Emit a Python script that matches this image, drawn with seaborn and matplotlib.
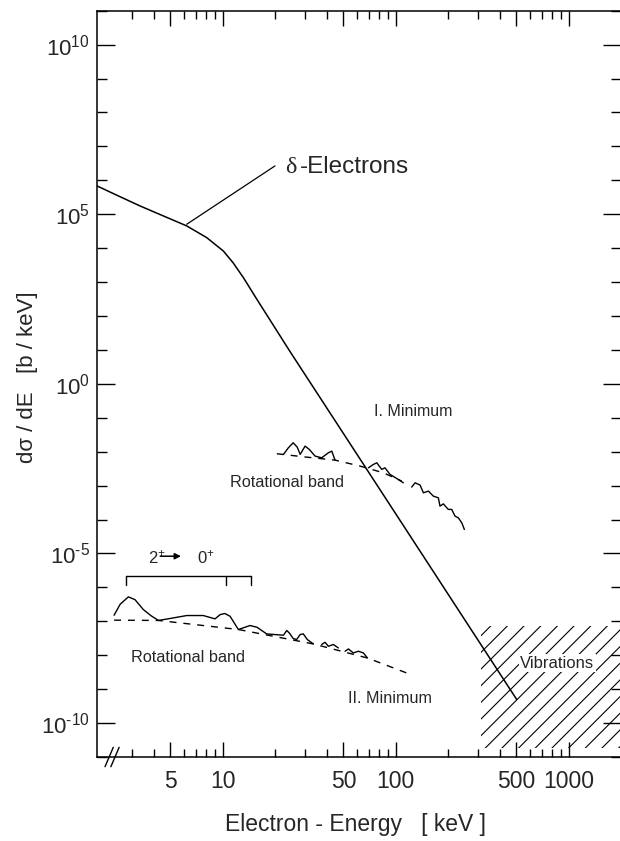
import numpy as np
import pandas as pd
import matplotlib
matplotlib.use("Agg")
import matplotlib.pyplot as plt
import seaborn as sns
from matplotlib.ticker import FixedLocator, FixedFormatter, NullFormatter

# ---- delta-electron spectrum (keV, b/keV) ----
delta_energy = [1.88, 2.45, 3.33, 4.55, 6.21, 8.1, 10.1, 11.5, 13.2, 15.8, 24.5, 502]
delta_sigma = [6.84e5, 3.63e5, 1.76e5, 8.9e4, 4.52e4, 2.04e4, 8.26e3, 3.73e3, 1.35e3, 3.09e2, 9.1, 4.93e-10]

# ---- rotational band, I. minimum ----
upper_base_energy = [20.6, 29.3, 44.7, 62.4, 85.0, 108.6]
upper_base_sigma = [8.7e-3, 7.08e-3, 5.65e-3, 3.76e-3, 2.39e-3, 1.36e-3]

upper_a_energy = [22.5, 24.0, 25.6, 27.0, 28.1, 30.0, 31.7, 34.3, 37.4, 40.9, 42.8, 44.7]
upper_a_sigma = [8.32e-3, 1.30e-2, 1.83e-2, 1.37e-2, 8.32e-3, 1.46e-2, 1.17e-2, 7.41e-3,
                 6.61e-3, 9.29e-3, 1.04e-2, 5.65e-3]
upper_b_energy = [69.7, 74.5, 77.9, 83.2, 86.9, 92.9, 103.7, 110.9]
upper_b_sigma = [3.35e-3, 4.22e-3, 4.71e-3, 3.01e-3, 3.35e-3, 2.14e-3, 1.52e-3, 1.21e-3]
upper_c_energy = [124, 129.7, 138.6, 144.9, 154.9, 165.4, 176.8, 180.7, 188.8, 201.8,
                  211.2, 220.7, 230.7, 241.5, 249.9]
upper_c_sigma = [9.04e-4, 1.21e-3, 1.04e-3, 6.14e-4, 6.89e-4, 4.90e-4, 4.37e-4, 2.48e-4,
                 2.90e-4, 1.99e-4, 1.99e-4, 1.26e-4, 1.12e-4, 8.0e-5, 5.1e-5]

# ---- rotational band, II. minimum ----
lower_base_energy = [2.36, 4.26, 12.34, 33.5, 68.7, 116.0]
lower_base_sigma = [1.08e-7, 1.06e-7, 5.73e-8, 2.15e-8, 8.3e-9, 3.0e-9]

lower_a_energy = [2.36, 2.56, 2.855, 3.12, 3.48, 3.86, 4.26, 4.97, 6.21, 7.74, 9.05, 9.67,
                  10.3, 11.05, 12.34, 14.4, 15.8, 18.0, 22.5, 23.5, 24.3, 25.6, 26.8, 28.1,
                  29.3, 30.9, 33.5]
lower_a_sigma = [1.51e-7, 3.19e-7, 5.25e-7, 4.34e-7, 2.23e-7, 1.46e-7, 1.06e-7, 1.21e-7,
                 1.48e-7, 1.48e-7, 1.18e-7, 1.57e-7, 1.70e-7, 1.41e-7, 5.73e-8, 7.5e-8,
                 6.7e-8, 4.25e-8, 3.89e-8, 5.36e-8, 4.55e-8, 3.11e-8, 2.90e-8, 4.08e-8,
                 4.25e-8, 2.90e-8, 2.15e-8]
lower_b_energy = [37.4, 39.1, 40.9, 43.7, 46.7]
lower_b_sigma = [2.07e-8, 2.41e-8, 1.84e-8, 2.07e-8, 1.64e-8]
lower_c_energy = [51.1, 53.4, 57.0, 61.0, 65.2, 68.8]
lower_c_sigma = [1.31e-8, 1.53e-8, 1.17e-8, 1.31e-8, 1.17e-8, 8.3e-9]

# 2+ -> 0+ transition range bracket (keV)
bracket_energy = [2.76, 10.4, 14.6]
bracket_sigma_top = 2.14e-6
bracket_sigma_bottom = 1.14e-6

# region dominated by vibrational excitation
vib_energy = [312, 2000]
vib_sigma = [1.8e-11, 7.2e-8]

# axis ticks
x_major = [5, 10, 50, 100, 500, 1000]
x_major_labels = ["5", "10", "50", "100", "500", "1000"]
x_minor = [3, 4, 6, 7, 8, 9, 20, 30, 40, 60, 70, 80, 90, 200, 300, 400, 600, 700, 800, 900]
y_major = [1e10, 1e5, 1e0, 1e-5, 1e-10]
y_major_labels = [r"$\mathregular{10^{10}}$", r"$\mathregular{10^{5}}$", r"$\mathregular{10^{0}}$",
                  r"$\mathregular{10^{\text{-}5}}$", r"$\mathregular{10^{\text{-}10}}$"]
y_minor = [10.0 ** k for k in range(-11, 12) if k % 5 != 0]

sns.set_theme(style="ticks")
plt.rcParams["font.family"] = ["Liberation Sans", "DejaVu Sans"]
plt.rcParams["mathtext.fontset"] = "custom"
plt.rcParams["mathtext.rm"] = "Liberation Sans"
plt.rcParams["mathtext.it"] = "Liberation Sans:italic"
plt.rcParams["mathtext.bf"] = "Liberation Sans:bold"
plt.rcParams["hatch.linewidth"] = 0.8
plt.rcParams["hatch.color"] = "black"

fig = plt.figure(figsize=(6.2, 8.41), dpi=100)
ax = fig.add_axes([97 / 620, 1 - 757 / 841, 523.6 / 620, 746.3 / 841])
ax.set_xscale("log")
ax.set_yscale("log")

line_kw = dict(color="black", linewidth=1.0, estimator=None, sort=False, legend=False)

def curve(xs, ys, **kw):
    df = pd.DataFrame({"energy": xs, "sigma": ys})
    sns.lineplot(data=df, x="energy", y="sigma", ax=ax, **{**line_kw, **kw})

curve(delta_energy, delta_sigma, linewidth=1.1)
for xs, ys in [(upper_a_energy, upper_a_sigma), (upper_b_energy, upper_b_sigma),
               (upper_c_energy, upper_c_sigma), (lower_a_energy, lower_a_sigma),
               (lower_b_energy, lower_b_sigma), (lower_c_energy, lower_c_sigma)]:
    curve(xs, ys, linewidth=1.0)
for xs, ys in [(upper_base_energy, upper_base_sigma), (lower_base_energy, lower_base_sigma)]:
    curve(xs, ys, linewidth=1.0, linestyle=(0, (5, 5)))

# bracket over the 2+ -> 0+ lines
ax.plot([bracket_energy[0], bracket_energy[-1]], [bracket_sigma_top] * 2, color="black", lw=1.0)
for e in bracket_energy:
    ax.plot([e, e], [bracket_sigma_top, bracket_sigma_bottom], color="black", lw=1.0)

# hatched vibrational region
ax.fill_between(vib_energy, vib_sigma[0], vib_sigma[1], facecolor="none",
                edgecolor="black", linewidth=0, hatch="//")

# leader line for the delta-electron label
ax.plot([6.21, 20.1], [5.07e4, 2.66e6], color="black", lw=0.9)

# annotations
ax.text(22.9, 2.4e6, "δ", family="Liberation Serif", fontsize=17.5, ha="left", va="center")
ax.text(27.9, 2.4e6, "-Electrons", fontsize=17.5, ha="left", va="center")
ax.text(75.2, 0.150, "I. Minimum", fontsize=11.5, ha="left", va="center")
ax.text(50.4, 1.27e-3, "Rotational band", fontsize=11.7, ha="right", va="center")
ax.text(2.96, 8.3e-9, "Rotational band", fontsize=11.7, ha="left", va="center")
ax.text(53.1, 5.4e-10, "II. Minimum", fontsize=11.6, ha="left", va="center")
ax.text(525, 5.9e-9, "Vibrations", fontsize=12, ha="left", va="center",
        bbox=dict(facecolor="white", edgecolor="none", pad=1.0))
ax.text(3.69, 5.28e-6, r"$\mathregular{2^{+}}$", fontsize=12, ha="left", va="baseline")
ax.text(7.15, 5.28e-6, r"$\mathregular{0^{+}}$", fontsize=12, ha="left", va="baseline")
ax.annotate("", xy=(5.75, 8.3e-6), xytext=(4.36, 8.3e-6),
            arrowprops=dict(arrowstyle="-|>", color="black", lw=1.1, mutation_scale=9,
                            shrinkA=0, shrinkB=0))

# axis break marks on the energy axis
for x0 in (0.0153, 0.0265):
    ax.plot([x0, x0 + 0.0158], [-0.013, 0.013], transform=ax.transAxes, color="black",
            lw=1.0, clip_on=False)

ax.set_xlim(1.88, 2000)
ax.set_ylim(1e-11, 1e11)

ax.xaxis.set_major_locator(FixedLocator(x_major))
ax.xaxis.set_major_formatter(FixedFormatter(x_major_labels))
ax.xaxis.set_minor_locator(FixedLocator(x_minor))
ax.xaxis.set_minor_formatter(NullFormatter())
ax.yaxis.set_major_locator(FixedLocator(y_major))
ax.yaxis.set_major_formatter(FixedFormatter(y_major_labels))
ax.yaxis.set_minor_locator(FixedLocator(y_minor))
ax.yaxis.set_minor_formatter(NullFormatter())

ax.tick_params(axis="both", which="both", direction="in", top=True, right=True,
               width=1.0, color="black")
ax.tick_params(axis="x", which="major", length=11, pad=9, labelsize=16.5)
ax.tick_params(axis="x", which="minor", length=6)
ax.tick_params(axis="y", which="major", length=13, pad=5, labelsize=16)
ax.tick_params(axis="y", which="minor", length=7.5)
for sp in ax.spines.values():
    sp.set_linewidth(1.1)
    sp.set_color("black")

ax.set_xlabel("Electron - Energy   [ keV ]", fontsize=16.5)
ax.xaxis.set_label_coords(0.493, -0.075)
ax.set_ylabel("dσ / dE   [b / keV]", fontsize=16)
ax.yaxis.set_label_coords(-0.1127, 0.5085)

fig.savefig("out.png", dpi=100)
